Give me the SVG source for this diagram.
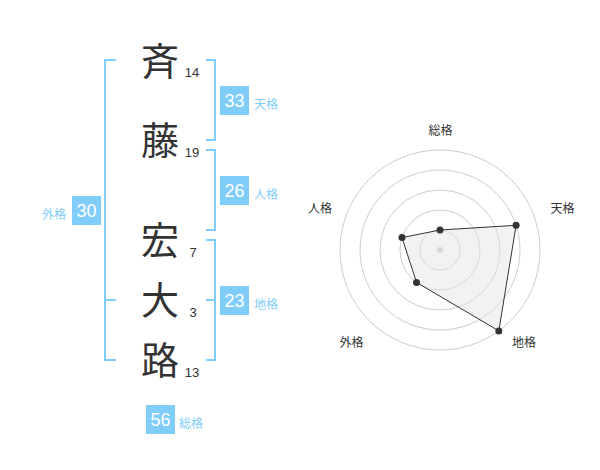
<svg xmlns="http://www.w3.org/2000/svg" width="600" height="470" viewBox="0 0 600 470">
<style>
.ch{font-family:"Noto Sans CJK JP","Noto Sans CJK SC",sans-serif;font-size:38px;fill:#333;text-anchor:middle}
.st{font-family:"Liberation Sans",Arial,sans-serif;font-size:13px;fill:#333;text-anchor:middle}
.br{fill:none;stroke:#81cdf9;stroke-width:2}
.box{fill:#81cdf9}
.bn{font-family:"Liberation Sans",Arial,sans-serif;font-size:18px;fill:#fff;text-anchor:middle}
.lb{font-family:"Noto Sans CJK JP","Noto Sans CJK SC",sans-serif;font-size:12px;fill:#81cdf9}
.ring{fill:none;stroke:#cccccc;stroke-width:1}
.rl{font-family:"Noto Sans CJK JP","Noto Sans CJK SC",sans-serif;font-size:12px;fill:#333;text-anchor:middle}
.pt{fill:#333}
</style>
<rect width="600" height="470" fill="#fff"/>
<g id="connectors">
<path class="br" d="M116,60 H105 V360 H116 M105,300 H116"/>
<path class="br" d="M206,60 H215 V140 H206"/>
<path class="br" d="M206,150 H215 V230 H206"/>
<path class="br" d="M206,240 H215 V360 H206 M215,300 H206"/>
</g>
<g id="char1"><text class="ch" x="160" y="75">斉</text><text class="st" x="192" y="77">14</text></g>
<g id="char2"><text class="ch" x="160" y="154">藤</text><text class="st" x="192" y="157">19</text></g>
<g id="char3"><text class="ch" x="160" y="254">宏</text><text class="st" x="193" y="257">7</text></g>
<g id="char4"><text class="ch" x="160" y="314">大</text><text class="st" x="193" y="317">3</text></g>
<g id="char5"><text class="ch" x="160" y="374">路</text><text class="st" x="192" y="377">13</text></g>
<g id="tenkaku"><rect class="box" x="220" y="86" width="29" height="29"/><text class="bn" x="234.5" y="107">33</text><text class="lb" x="254" y="109">天格</text></g>
<g id="jinkaku"><rect class="box" x="220" y="176" width="29" height="29"/><text class="bn" x="234.5" y="197">26</text><text class="lb" x="254" y="199">人格</text></g>
<g id="chikaku"><rect class="box" x="220" y="286" width="29" height="29"/><text class="bn" x="234.5" y="307">23</text><text class="lb" x="254" y="309">地格</text></g>
<g id="gaikaku"><rect class="box" x="72" y="196" width="29" height="29"/><text class="bn" x="86.5" y="217">30</text><text class="lb" x="66" y="219" text-anchor="end">外格</text></g>
<g id="soukaku"><rect class="box" x="146" y="405" width="29" height="29"/><text class="bn" x="160.5" y="426">56</text><text class="lb" x="179" y="428">総格</text></g>
<g id="radar">
<circle class="ring" cx="440" cy="250" r="20"/>
<circle class="ring" cx="440" cy="250" r="40"/>
<circle class="ring" cx="440" cy="250" r="60"/>
<circle class="ring" cx="440" cy="250" r="80"/>
<circle class="ring" cx="440" cy="250" r="100"/>
<circle cx="440" cy="250" r="3" fill="#c8c8c8"/>
<polygon points="440,230 516.1,225.3 498.8,330.9 416.5,282.4 402,237.6" fill="#e6e6e6" fill-opacity="0.5" stroke="#333" stroke-width="1"/>
<circle class="pt" cx="440" cy="230" r="3.5"/>
<circle class="pt" cx="516.1" cy="225.3" r="3.5"/>
<circle class="pt" cx="498.8" cy="330.9" r="3.5"/>
<circle class="pt" cx="416.5" cy="282.4" r="3.5"/>
<circle class="pt" cx="402" cy="237.6" r="3.5"/>
<text class="rl" x="440.5" y="135">総格</text>
<text class="rl" x="562.5" y="213">天格</text>
<text class="rl" x="320" y="213">人格</text>
<text class="rl" x="351.5" y="347">外格</text>
<text class="rl" x="524" y="347">地格</text>
</g>
</svg>
